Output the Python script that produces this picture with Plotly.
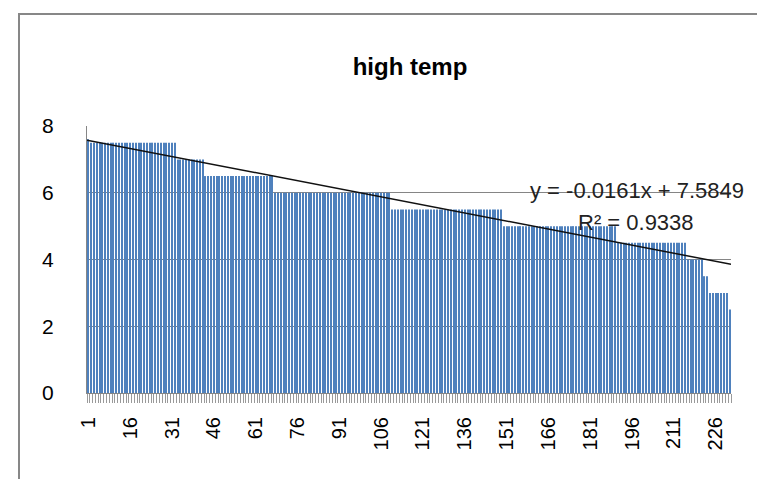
import plotly.graph_objects as go

# Data (run-length steps of the bar series)
step_values = [7.6, 7.5, 7.0, 6.5, 6.0, 5.5, 5.0, 4.5, 4.0, 3.5, 3.0, 2.5]
step_counts = [1, 31, 10, 25, 42, 40, 41, 25, 6, 2, 7, 1]
tick_labels = [str(v) for v in range(1, 232, 15)]
trend_slope = -0.0161
trend_intercept = 7.5849
equation_text = "y = -0.0161x + 7.5849"
r2_text = "R² = 0.9338"
title_text = "high temp"

values = []
for v, c in zip(step_values, step_counts):
    values.extend([v] * c)
n = len(values)
cats = list(range(1, n + 1))

# figure geometry (pixels)
W, H = 757, 479
L, R, T, B = 87, 731, 126, 393

def px_x(p):
    return (p - L) / (R - L)

def px_y(p):
    return (B - p) / (B - T)

fig = go.Figure()
fig.add_trace(go.Bar(x=cats, y=values, marker=dict(color="#4F81BD", line=dict(width=0)),
                     showlegend=False, hoverinfo="x+y"))
tx = [0.5, n + 0.5]
ty = [trend_intercept + trend_slope * x for x in tx]
fig.add_trace(go.Scatter(x=tx, y=ty, mode="lines", line=dict(color="#111111", width=1.5),
                         showlegend=False, hoverinfo="skip"))

font_family = "Liberation Sans, Arial, sans-serif"
fig.update_layout(
    width=W, height=H,
    margin=dict(l=L, r=W - R, t=T, b=H - B),
    paper_bgcolor="white", plot_bgcolor="white",
    bargap=0.62,
    font=dict(family=font_family, size=20, color="#000000"),
    title=dict(text="<b>" + title_text + "</b>", x=px_x(410), xref="paper",
               y=1 - 67 / H, yref="container", xanchor="center", yanchor="middle",
               font=dict(size=24, color="#000000")),
    xaxis=dict(range=[0.5, n + 0.5], tickmode="array",
               tickvals=[int(t) for t in tick_labels], ticktext=tick_labels,
               tickangle=-90, ticks="outside", ticklen=9, tickcolor="rgba(0,0,0,0)",
               showgrid=False, zeroline=False, showline=True, linecolor="#868686", linewidth=1,
               ticklabelstandoff=6,
               minor=dict(tickmode="linear", tick0=0.5, dtick=1, ticks="outside",
                          ticklen=9, tickcolor="#9a9a9a", tickwidth=1, showgrid=False),
               tickfont=dict(size=20)),
    yaxis=dict(range=[0, 8], tickvals=[0, 2, 4, 6, 8], showgrid=True, gridcolor="#858585",
               gridwidth=1, zeroline=False, showline=True, linecolor="#868686", linewidth=1,
               ticks="", ticklabelstandoff=28, tickfont=dict(size=21)),
    shapes=[dict(type="rect", xref="paper", yref="paper",
                 x0=px_x(19), x1=px_x(800), y0=px_y(520), y1=px_y(14),
                 line=dict(color="#878787", width=2), fillcolor="rgba(0,0,0,0)", layer="above")],
    annotations=[
        dict(text=equation_text, xref="paper", yref="paper", x=px_x(637), y=px_y(190),
             showarrow=False, xanchor="center", yanchor="middle",
             font=dict(size=22, color="#222222")),
        dict(text=r2_text, xref="paper", yref="paper", x=px_x(636), y=px_y(222),
             showarrow=False, xanchor="center", yanchor="middle",
             font=dict(size=22, color="#222222")),
    ],
)

fig.write_html("out.html")
